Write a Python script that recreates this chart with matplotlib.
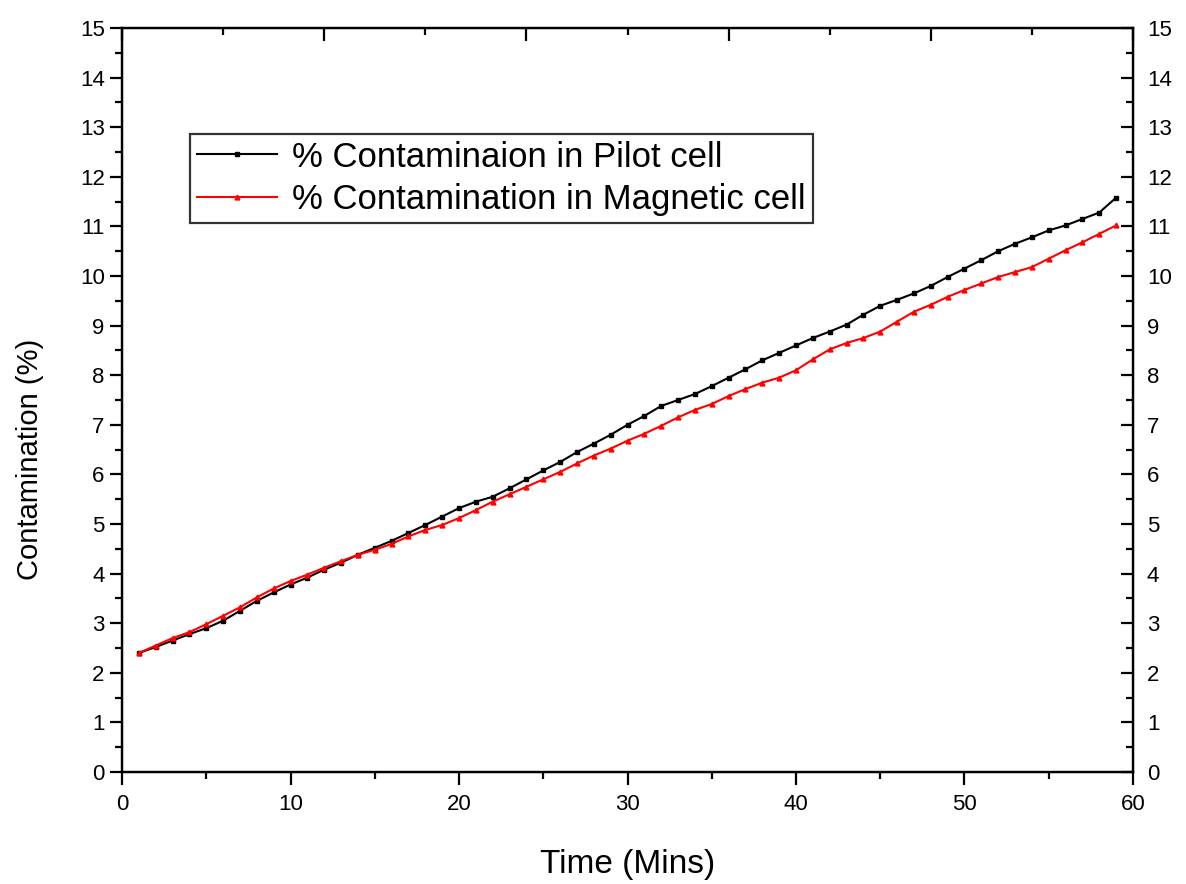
import numpy as np
import matplotlib.pyplot as plt
from matplotlib.ticker import MultipleLocator

plt.rcParams['font.family'] = ['Liberation Sans', 'DejaVu Sans']

time_min = list(range(1, 60))

pilot = [2.40, 2.52, 2.65, 2.78, 2.90, 3.05, 3.25, 3.45, 3.62, 3.78,
         3.92, 4.08, 4.22, 4.38, 4.52, 4.66, 4.82, 4.98, 5.15, 5.32,
         5.45, 5.55, 5.72, 5.90, 6.08, 6.25, 6.45, 6.62, 6.80, 7.00,
         7.18, 7.38, 7.50, 7.62, 7.78, 7.95, 8.12, 8.30, 8.45, 8.60,
         8.75, 8.88, 9.02, 9.22, 9.40, 9.52, 9.65, 9.80, 9.98, 10.15,
         10.32, 10.50, 10.65, 10.78, 10.92, 11.02, 11.15, 11.28, 11.58]

magnetic = [2.40, 2.55, 2.70, 2.82, 2.98, 3.15, 3.32, 3.52, 3.70, 3.85,
            3.98, 4.12, 4.25, 4.38, 4.48, 4.60, 4.75, 4.88, 4.98, 5.12,
            5.28, 5.45, 5.60, 5.75, 5.90, 6.05, 6.22, 6.38, 6.52, 6.68,
            6.82, 6.98, 7.15, 7.30, 7.42, 7.58, 7.72, 7.85, 7.95, 8.10,
            8.32, 8.52, 8.65, 8.75, 8.88, 9.08, 9.28, 9.42, 9.58, 9.72,
            9.85, 9.98, 10.08, 10.18, 10.35, 10.52, 10.68, 10.85, 11.02]

fig = plt.figure(figsize=(11.86, 8.84), dpi=100)
ax = fig.add_axes([0.1029, 0.1267, 0.8524, 0.8416])

ax.plot(time_min, pilot, color='black', lw=1.5, marker='s', ms=3,
        label='% Contaminaion in Pilot cell')
ax.plot(time_min, magnetic, color='red', lw=1.5, marker='^', ms=3.5,
        label='% Contamination in Magnetic cell')

ax.set_xlim(0, 60)
ax.set_ylim(0, 15)
ax.xaxis.set_major_locator(MultipleLocator(10))
ax.xaxis.set_minor_locator(MultipleLocator(5))
ax.yaxis.set_major_locator(MultipleLocator(1))
ax.yaxis.set_minor_locator(MultipleLocator(0.5))

for s in ax.spines.values():
    s.set_linewidth(1.6)

ax.tick_params(axis='both', which='major', direction='out', length=9, width=1.6,
               labelsize=16, top=False, right=False)
ax.tick_params(axis='both', which='minor', direction='out', length=5, width=1.6,
               top=False, right=False)
ax.tick_params(axis='x', pad=7)

# right axis: mirrored labels, inward ticks
axr = ax.twinx()
axr.set_ylim(0, 15)
axr.yaxis.set_major_locator(MultipleLocator(1))
axr.yaxis.set_minor_locator(MultipleLocator(0.5))
axr.tick_params(axis='y', which='major', direction='in', length=9, width=1.6,
                labelsize=16, pad=10)
axr.tick_params(axis='y', which='minor', direction='in', length=5, width=1.6)
for s in axr.spines.values():
    s.set_linewidth(1.6)

# top axis: inward ticks, no labels
axt = ax.twiny()
axt.set_xlim(0, 60)
axt.xaxis.set_major_locator(MultipleLocator(12))
axt.xaxis.set_minor_locator(MultipleLocator(6))
axt.tick_params(axis='x', which='major', direction='in', length=9, width=1.6,
                labeltop=False)
axt.tick_params(axis='x', which='minor', direction='in', length=5, width=1.6)

ax.set_xlabel('Time (Mins)', fontsize=24)
ax.set_ylabel('Contamination (%)', fontsize=21)
ax.xaxis.set_label_coords(0.5, -0.103)
ax.yaxis.set_label_coords(-0.077, 0.42)

leg = ax.legend(loc='upper left', bbox_to_anchor=(0.067, 0.858), fontsize=25,
                frameon=True, fancybox=False, edgecolor='black', numpoints=1,
                handlelength=2.3, borderpad=0.2, labelspacing=0.28,
                handletextpad=0.45, borderaxespad=0)
leg.get_frame().set_linewidth(1.6)

fig.savefig('out.png', dpi=100)
